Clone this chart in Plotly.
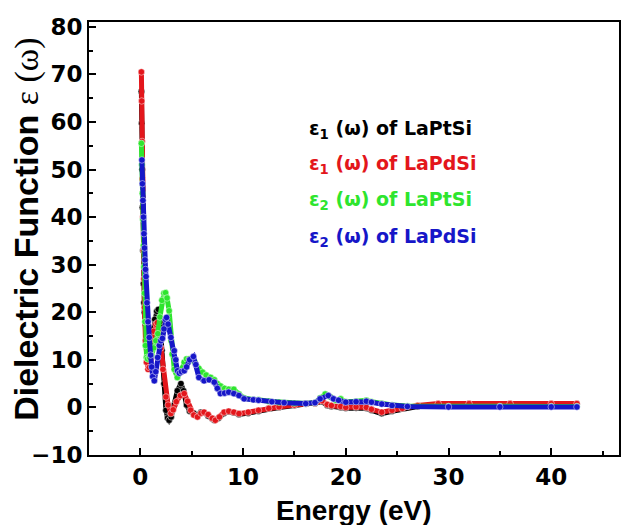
import plotly.graph_objects as go

# ---- data ----
e_black = [0.1, 0.13, 0.17, 0.2, 0.25, 0.3, 0.35, 0.4, 0.5, 0.6, 0.75, 0.9, 1.05, 1.2, 1.4, 1.6, 1.75, 1.9, 2.1, 2.3,
           2.49, 2.65, 2.8, 3.0, 3.3, 3.6, 3.95, 4.2, 4.5, 4.8, 5.2, 5.56, 5.9, 6.2, 6.6, 7.0, 7.2, 7.6, 8.15, 8.6,
           9.1, 9.6, 10.5, 11.5, 12.5, 13.5, 15, 16.1, 17, 17.7, 18.2, 18.6, 19.5, 20, 21, 22, 22.5, 23.5, 24.5, 25.5,
           27, 29, 32, 36, 40, 42.5]
eps1_ptsi = [66.4, 59.7, 50, 42, 33, 26, 22, 20, 17.5, 15, 13, 12, 13, 15.5, 18.5, 20.2, 20.6, 18, 12, 5,
             -0.6, -2.2, -2.7, -2, 0.5, 3.5, 5.0, 3.5, 0.5, -0.8, -1.2, -1.6, -1.0, -1.1, -1.8, -2.4, -2.7, -2.3, -1.2, -0.9,
             -1.1, -1.5, -1.2, -0.8, -0.3, 0.0, 0.4, 0.7, 0.8, 1.2, 0.4, 0.2, 0.0, -0.2, -0.1, -0.2, -0.6, -1.3, -0.8, -0.3,
             0.2, 0.5, 0.6, 0.6, 0.6, 0.6]

e_red = [0.1, 0.13, 0.17, 0.2, 0.25, 0.3, 0.35, 0.4, 0.5, 0.6, 0.75, 0.87, 1.0, 1.15, 1.3, 1.5, 1.65, 1.8, 2.0, 2.2,
         2.49, 2.7, 2.97, 3.2, 3.5, 3.9, 4.27, 4.6, 4.9, 5.2, 5.56, 5.9, 6.2, 6.6, 7.0, 7.3, 7.7, 8.15, 8.6, 9.1,
         9.6, 10.5, 11.5, 12.5, 13.5, 15, 16.1, 17, 17.7, 18.2, 18.6, 19.5, 20, 21, 22, 22.5, 23.5, 24.5, 25.5, 27,
         29, 32, 36, 40, 42.5]
eps1_pdsi = [70.5, 64.4, 55.9, 48, 40, 33, 27, 21, 14, 9.5, 8.0, 8.4, 10, 13, 16, 17.5, 17.8, 16, 12.5, 8,
             2.2, 0.5, -1.3, -0.5, 1.2, 2.5, 2.9, 1.3, -0.6, -1.6, -2.0, -1.2, -1.0, -1.5, -2.3, -2.7, -2.0, -1.0, -0.8, -1.0,
             -1.3, -1.0, -0.6, -0.2, 0.1, 0.5, 0.8, 0.9, 1.4, 0.6, 0.4, 0.2, 0.0, 0.1, 0.0, -0.4, -1.0, -0.6, -0.2, 0.4,
             0.8, 0.8, 0.8, 0.8, 0.8]

e_green = [0.1, 0.15, 0.2, 0.25, 0.3, 0.35, 0.4, 0.45, 0.5, 0.6, 0.7, 0.9, 1.1, 1.3, 1.5, 1.7, 1.9, 2.1, 2.3, 2.45,
           2.6, 2.8, 3.0, 3.1, 3.3, 3.6, 3.9, 4.27, 4.5, 4.75, 5.0, 5.3, 5.7, 6.05, 6.4, 6.85, 7.2, 7.5, 7.8, 8.2,
           8.6, 9.1, 9.6, 10.1, 11, 11.5, 12.5, 13.5, 15, 16.1, 17, 17.5, 18.0, 18.5, 19, 19.5, 20, 21, 22, 22.5,
           23.5, 24.5, 26, 30, 35, 40, 42.5]
eps2_ptsi = [55.5, 51, 45, 39.5, 34, 29.5, 24, 18, 13, 10.5, 10.2, 10.5, 11, 12.5, 14, 15.5, 19, 22.5, 24, 24.1,
             23, 20.3, 14, 11.2, 8, 6.3, 7.5, 9.5, 10.2, 10.2, 10, 9.5, 8.2, 7.4, 6.8, 6.3, 5.8, 5, 4.5, 4.0,
             3.8, 3.8, 2.8, 2.0, 1.6, 1.6, 1.3, 1.1, 0.9, 0.8, 1.0, 2.0, 2.8, 2.2, 1.5, 1.8, 1.2, 1.3, 1.5, 1.2,
             0.8, 0.5, 0.3, 0.2, 0.2, 0.2, 0.2]

e_blue = [0.15, 0.2, 0.25, 0.3, 0.35, 0.4, 0.45, 0.5, 0.55, 0.65, 0.75, 0.87, 1.0, 1.1, 1.2, 1.36, 1.5, 1.68, 1.85, 2.0,
          2.15, 2.3, 2.45, 2.55, 2.7, 2.97, 3.3, 3.45, 3.62, 3.8, 4.0, 4.27, 4.5, 4.8, 5.17, 5.4, 5.7, 6.2, 6.7, 7.2,
          7.5, 7.8, 8.2, 8.6, 9.1, 9.6, 10.1, 11, 11.5, 12.8, 14, 16.1, 17, 17.5, 18.3, 18.8, 19.3, 20, 21, 22,
          22.5, 23.5, 24.5, 26, 30, 35, 40, 42.5]
eps2_pdsi = [52, 47, 43.5, 40, 36.5, 33.5, 31, 29, 27.5, 22, 18, 14.7, 11, 8.5, 6.5, 5.6, 7.5, 10.5, 13, 14.0,
             14.5, 16.5, 18.5, 18.9, 17.5, 14.7, 11.9, 10, 7.7, 7.2, 7.5, 7.7, 8.5, 10, 10.7, 9, 6.3, 5.6, 5.8, 5.3,
             4.0, 2.9, 3.0, 3.2, 2.9, 2.5, 1.8, 1.6, 1.5, 1.2, 1.0, 0.8, 1.0, 1.8, 2.5, 1.8, 1.5, 1.1, 1.2, 1.3,
             1.1, 0.7, 0.4, 0.2, 0.1, 0.1, 0.1, 0.1]

series = [
    ("ε<sub>1</sub> (ω) of LaPtSi", e_black, eps1_ptsi, "#000000"),
    ("ε<sub>1</sub> (ω) of LaPdSi", e_red, eps1_pdsi, "#e3161b"),
    ("ε<sub>2</sub> (ω) of LaPtSi", e_green, eps2_ptsi, "#2ee52e"),
    ("ε<sub>2</sub> (ω) of LaPdSi", e_blue, eps2_pdsi, "#1616c8"),
]

x_ticks = [0, 10, 20, 30, 40]
y_ticks = [-10, 0, 10, 20, 30, 40, 50, 60, 70, 80]

fig = go.Figure()
for name, xs, ys, col in series:
    fig.add_trace(go.Scatter(
        x=xs, y=ys, mode="lines+markers", name=name, showlegend=False,
        line=dict(color=col, width=5),
        marker=dict(symbol="circle", size=6.5, color=col, line=dict(color="rgba(255,255,255,0.6)", width=0.8)),
    ))

# legend as coloured text
leg_y = [0.752, 0.671, 0.587, 0.503]
for (name, xs, ys, col), yy in zip(series, leg_y):
    fig.add_annotation(
        xref="paper", yref="paper", x=0.412, y=yy, xanchor="left", yanchor="middle",
        text="<b>" + name + "</b>", showarrow=False,
        font=dict(family="DejaVu Sans", size=19, color=col),
    )

# axis titles
fig.add_annotation(
    xref="paper", yref="paper", x=0, y=0.52, xanchor="center", yanchor="middle", xshift=-62,
    textangle=-90, showarrow=False,
    text="<b>Dielectric Function </b><span style='font-family:Liberation Serif'>ε (ω)</span>",
    font=dict(family="Liberation Sans, Arial", size=34, color="black"),
)
fig.add_annotation(
    xref="paper", yref="paper", x=0.5, y=0, xanchor="center", yanchor="middle", yshift=-55,
    showarrow=False, text="<b>Energy (eV)</b>",
    font=dict(family="Liberation Sans, Arial", size=28, color="black"),
)

axis_common = dict(
    showline=True, linecolor="black", linewidth=2, mirror=True,
    ticks="inside", ticklen=7, tickwidth=2, tickcolor="black",
    showgrid=False, zeroline=False,
    tickfont=dict(family="DejaVu Sans", size=23, color="black", weight="bold"),
)

fig.update_xaxes(
    range=[-5, 46.6], tickvals=x_ticks,
    minor=dict(ticks="inside", ticklen=4, tickwidth=1.5, dtick=5, tick0=0, tickcolor="black"),
    **axis_common,
)
fig.update_yaxes(
    range=[-10, 81], tickvals=y_ticks,
    minor=dict(ticks="inside", ticklen=4, tickwidth=1.5, dtick=5, tick0=0, tickcolor="black"),
    **axis_common,
)

fig.update_layout(
    width=623, height=525,
    margin=dict(l=89, r=2, t=22, b=70),
    plot_bgcolor="white", paper_bgcolor="white",
)

fig.write_html("out.html")
